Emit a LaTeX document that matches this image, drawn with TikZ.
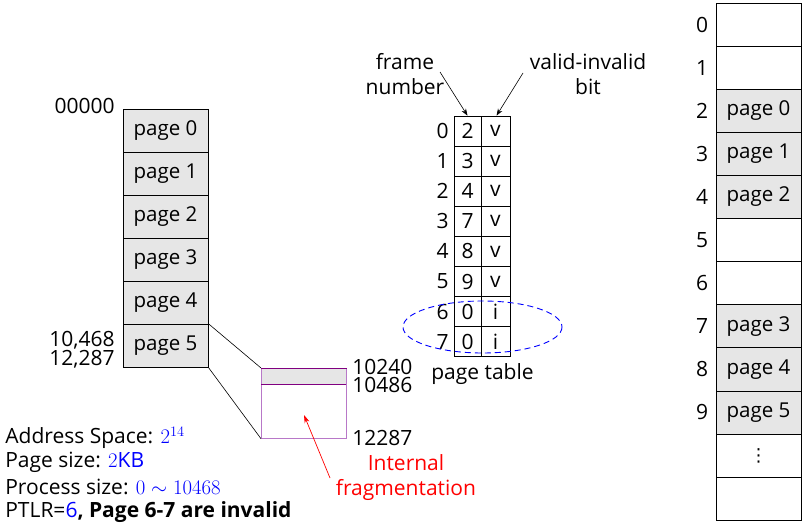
\documentclass[tikz,border=0pt]{standalone}
\usepackage{fontspec}
\setmainfont{Open Sans}
\newfontfamily\dejavu{DejaVu Sans}
\usetikzlibrary{arrows.meta}
\definecolor{cellgray}{HTML}{E6E6E6}
\definecolor{fragpurple}{HTML}{800080}
\definecolor{fraglight}{HTML}{B878C8}
\newcommand{\bigmath}[1]{{\fontsize{22.5}{25}\selectfont\textcolor{blue}{#1}}}
\tikzset{
  every path/.style={line width=0.7pt},
  txt/.style={inner sep=0pt, font=\fontsize{21}{25}\selectfont},
  lpage/.style={draw, fill=cellgray, minimum width=85pt, minimum height=43pt, inner sep=0pt, font=\fontsize{20.5}{22}\selectfont},
  pfree/.style={draw, fill=white, minimum width=85pt, minimum height=43.1pt, inner sep=0pt, font=\fontsize{20.5}{22}\selectfont},
  pused/.style={pfree, fill=cellgray},
  fcell/.style={draw, minimum width=27pt, minimum height=30.1pt, inner sep=0pt, font=\fontsize{21}{22}\selectfont},
  bcell/.style={draw, minimum width=29pt, minimum height=30.1pt, inner sep=0pt, font=\fontsize{21}{22}\selectfont},
  ptr/.style={-{Stealth[length=7pt,width=5pt]}, line width=0.6pt},
}
\begin{document}
\begin{tikzpicture}[x=1pt,y=-1pt]
\useasboundingbox (0,0) rectangle (802,524);
% logical memory
\foreach \i in {0,...,5}{
  \node[lpage] (p\i) at (165.5,{109+43*\i+21.5}) {page \i};
}
\node[txt, anchor=east] (a0) at (115,106) {00000};
\node[txt, anchor=east] (a1) at (115,340) {10,468};
\node[txt, anchor=east] (a2) at (115,359) {12,287};
% fragment box
\node[draw=fraglight, minimum width=85pt, minimum height=70pt, inner sep=0pt, anchor=north west] (frag) at (261,368) {};
\fill[cellgray] (frag.north west) rectangle (346,384);
\draw[fraglight] (frag.north west) rectangle (frag.south east);
\draw[fragpurple, line width=1pt] (frag.north west) -- (frag.north east);
\draw[fragpurple, line width=1pt] (261,384) -- (346,384);
\draw[line width=0.6pt] (p5.north east) -- (frag.north west);
\draw[line width=0.6pt] (p5.south east) -- (frag.south west);
\node[txt, anchor=west] (b0) at (352,367) {10240};
\node[txt, anchor=west] (b1) at (352,385) {10486};
\node[txt, anchor=west] (b2) at (352,438) {12287};
\node[txt, text=red, align=center] (ifr) at (406,478) {Internal\\fragmentation};
\coordinate (ifrtail) at (330,478);
\coordinate (ifrhead) at (304,415);
\draw[red, -{Stealth[length=8pt,width=5pt]}] (ifrtail) -- (ifrhead);
% page table
\foreach \i/\f/\b in {0/2/v,1/3/v,2/4/v,3/7/v,4/8/v,5/9/v,6/0/i,7/0/i}{
  \node[fcell] (f\i) at (467.5,{116+30.1*\i+15.05}) {\f};
  \node[bcell] (v\i) at (495.5,{116+30.1*\i+15.05}) {\b};
  \node[txt, anchor=east] (n\i) at (449,{116+30.1*\i+15.05}) {\i};
}
\node[txt] (ptl) at (482.5,374) {page table};
\node[txt, align=center] (fn) at (405,74) {frame\\number};
\node[txt, align=center] (vb) at (588,74) {valid-invalid\\bit};
\coordinate (fnt) at (440,72);
\coordinate (vbt) at (523,73);
\draw[ptr] (fnt) -- (f0.north);
\draw[ptr] (vbt) -- ([xshift=1pt]v0.north);
\draw[blue, line width=0.9pt, dash pattern=on 6pt off 4pt] (482.5,327) ellipse [x radius=79.5, y radius=26];
% physical memory
\foreach \i/\s/\t in {0/pfree/,1/pfree/,2/pused/page 0,3/pused/page 1,4/pused/page 2,5/pfree/,6/pfree/,7/pused/page 3,8/pused/page 4,9/pused/page 5}{
  \node[\s] (m\i) at (758.5,{3+43.1*\i+21.55}) {\t};
  \node[txt] (mn\i) at (702,{3+43.1*\i+21.55}) {\i};
}
\node[pfree] (m10) at (758.5,{3+43.1*10+21.55}) {{\dejavu\fontsize{18}{20}\selectfont ⋮}};
\node[pfree] (m11) at (758.5,{3+43.1*11+21.55}) {};
% bottom text
\node[txt, anchor=west] (t1) at (5,438) {Address Space: \bigmath{$2^{14}$}};
\node[txt, anchor=west] (t2) at (5,462) {Page size: \bigmath{$2$}\textcolor{blue}{KB}};
\node[txt, anchor=west] (t3) at (5,487) {Process size: \bigmath{$0\sim10468$}};
\node[txt, anchor=west] (t4) at (5,512) {PTLR=\textcolor{blue}{6}\textbf{, Page 6-7 are invalid}};
\end{tikzpicture}
\end{document}
